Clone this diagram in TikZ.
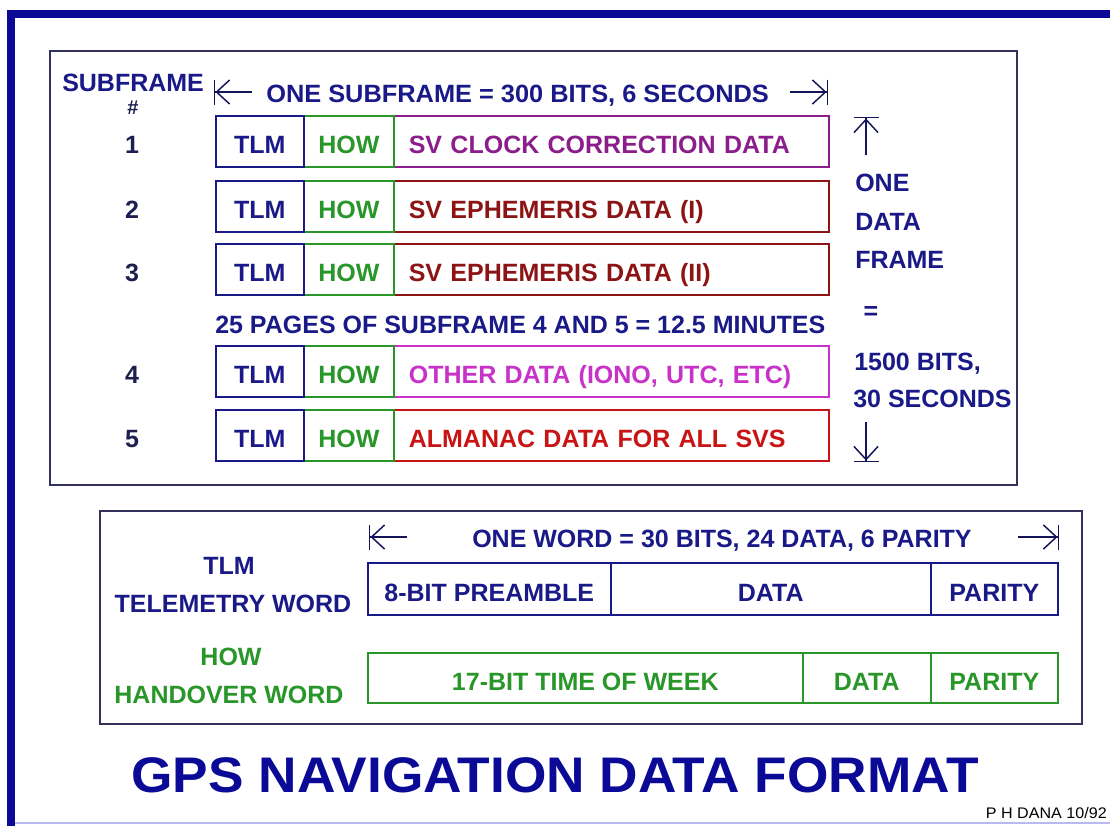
\documentclass[tikz,border=0pt]{standalone}
\usepackage{fontspec}
\setmainfont{Liberation Sans}
\usetikzlibrary{arrows.meta}
\definecolor{navy}{RGB}{25,25,135}
\definecolor{numcol}{RGB}{30,30,80}
\definecolor{grn}{RGB}{40,150,40}
\definecolor{purp}{RGB}{140,30,140}
\definecolor{dred}{RGB}{140,20,20}
\definecolor{magn}{RGB}{200,50,200}
\definecolor{brred}{RGB}{200,20,20}
\definecolor{frameblue}{RGB}{10,10,150}
\definecolor{panelline}{RGB}{50,50,90}
\definecolor{lav}{RGB}{185,185,235}
\definecolor{arrcol}{RGB}{20,20,90}
\newcommand{\lblfont}{\bfseries\fontsize{18.75pt}{22pt}\selectfont}
\tikzset{
  lbl/.style={font=\lblfont, inner sep=0pt},
  cell/.style={draw, line width=1.2pt, anchor=north west, inner sep=0pt,
    minimum height=38.25pt, text height=18.75pt, text depth=0pt, font=\lblfont},
  dcell/.style={cell, text width=303.75pt, align=left, inner xsep=11.25pt},
  panel/.style={draw=panelline, line width=1.4pt},
  dimstart/.style={draw=arrcol, line width=1.1pt,
    {Bar[width=18.75pt,line width=1.1pt]Straight Barb[length=9.75pt,width=18pt,line width=1.1pt]}-},
  dimend/.style={draw=arrcol, line width=1.1pt,
    -{Straight Barb[length=9.75pt,width=18pt,line width=1.1pt]Bar[width=18.75pt,line width=1.1pt]}},
}
\begin{document}
\begin{tikzpicture}[x=0.75pt,y=-0.75pt]
\useasboundingbox (0,0) rectangle (1110,825);
\fill[white] (0,0) rectangle (1110,825);
% outer frame
\draw[frameblue, line width=6pt] (11,830) -- (11,14) -- (1115,14);
\draw[lav, line width=1.5pt] (15,823) -- (1110,823);
% panels
\draw[panel] (50,51) rectangle (1017,485);
\draw[panel] (100,511) rectangle (1082,724);

% header
\node[lbl, navy, anchor=base west] (subframe) at (62,91) {SUBFRAME};
\node[font=\bfseries\fontsize{15pt}{17pt}\selectfont, inner sep=0pt, numcol, anchor=base] (hash) at (133,114) {\#};
\coordinate (tl1) at (214,92); \coordinate (tl2) at (252,92);
\coordinate (tr1) at (790,92); \coordinate (tr2) at (828,92);
\draw[dimstart] (tl1) -- (tl2);
\draw[dimend] (tr1) -- (tr2);
\node[lbl, navy, anchor=base west, xscale=1.015] (onesub) at (266,102) {ONE SUBFRAME = 300 BITS, 6 SECONDS};

% row 1
\node[dcell, draw=purp, text=purp] (d1) at (393,115) {SV CLOCK CORRECTION DATA};
\node[cell, draw=grn, text=grn, minimum width=67.5pt] (h1) at (303,115) {HOW};
\node[cell, draw=navy, text=navy, minimum width=66pt] (t1) at (215,115) {TLM};
% row 2
\node[dcell, draw=dred, text=dred] (d2) at (393,180) {SV EPHEMERIS DATA (I)};
\node[cell, draw=grn, text=grn, minimum width=67.5pt] (h2) at (303,180) {HOW};
\node[cell, draw=navy, text=navy, minimum width=66pt] (t2) at (215,180) {TLM};
% row 3
\node[dcell, draw=dred, text=dred] (d3) at (393,243) {SV EPHEMERIS DATA (II)};
\node[cell, draw=grn, text=grn, minimum width=67.5pt] (h3) at (303,243) {HOW};
\node[cell, draw=navy, text=navy, minimum width=66pt] (t3) at (215,243) {TLM};
% row 4
\node[dcell, draw=magn, text=magn] (d4) at (393,345) {OTHER DATA (IONO, UTC, ETC)};
\node[cell, draw=grn, text=grn, minimum width=67.5pt] (h4) at (303,345) {HOW};
\node[cell, draw=navy, text=navy, minimum width=66pt] (t4) at (215,345) {TLM};
% row 5
\node[dcell, draw=brred, text=brred] (d5) at (393,409) {ALMANAC DATA FOR ALL SVS};
\node[cell, draw=grn, text=grn, minimum width=67.5pt] (h5) at (303,409) {HOW};
\node[cell, draw=navy, text=navy, minimum width=66pt] (t5) at (215,409) {TLM};

% subframe numbers
\node[lbl, numcol, anchor=base] (n1) at (132,153) {1};
\node[lbl, numcol, anchor=base] (n2) at (132,218) {2};
\node[lbl, numcol, anchor=base] (n3) at (132,281) {3};
\node[lbl, numcol, anchor=base] (n4) at (132,383) {4};
\node[lbl, numcol, anchor=base] (n5) at (132,447) {5};

\node[lbl, navy, anchor=base west] (pages) at (215,333) {25 PAGES OF SUBFRAME 4 AND 5 = 12.5 MINUTES};

% right side
\coordinate (vt1) at (866,117); \coordinate (vt2) at (866,155);
\coordinate (vb1) at (866,422); \coordinate (vb2) at (866,462);
\draw[dimstart] (vt1) -- (vt2);
\draw[dimend] (vb1) -- (vb2);
\node[lbl, navy, anchor=base west] (rone) at (855,191) {ONE};
\node[lbl, navy, anchor=base west] (rdata) at (855,230) {DATA};
\node[lbl, navy, anchor=base west] (rframe) at (855,268) {FRAME};
\node[lbl, navy, anchor=base] (req) at (871,319) {=};
\node[lbl, navy, anchor=base west] (rbits) at (854,370) {1500 BITS,};
\node[lbl, navy, anchor=base west] (rsec) at (853,407) {30 SECONDS};

% bottom panel
\coordinate (wl1) at (369,537); \coordinate (wl2) at (407,537);
\coordinate (wr1) at (1018,537); \coordinate (wr2) at (1059,537);
\draw[dimstart] (wl1) -- (wl2);
\draw[dimend] (wr1) -- (wr2);
\node[lbl, navy, anchor=base west] (oneword) at (472,547) {ONE WORD = 30 BITS, 24 DATA, 6 PARITY};

\node[lbl, navy, anchor=base] (btlm) at (229,574) {TLM};
\node[lbl, navy, anchor=base] (btel) at (233,612) {TELEMETRY WORD};
\node[lbl, grn, anchor=base] (bhow) at (231,665) {HOW};
\node[lbl, grn, anchor=base] (bhand) at (229,703) {HANDOVER WORD};

\node[cell, draw=navy, text=navy, minimum width=182.25pt, minimum height=39pt] (tw1) at (367,562) {8-BIT PREAMBLE};
\node[cell, draw=navy, text=navy, minimum width=240pt, minimum height=39pt] (tw2) at (610,562) {DATA};
\node[cell, draw=navy, text=navy, minimum width=95.25pt, minimum height=39pt] (tw3) at (930,562) {PARITY};

\node[cell, draw=grn, text=grn, minimum width=326.25pt, minimum height=37.5pt] (hw1) at (367,652) {17-BIT TIME OF WEEK};
\node[cell, draw=grn, text=grn, minimum width=96pt, minimum height=37.5pt] (hw2) at (802,652) {DATA};
\node[cell, draw=grn, text=grn, minimum width=95.25pt, minimum height=37.5pt] (hw3) at (930,652) {PARITY};

% title
\node[font=\bfseries\fontsize{37.5pt}{40pt}\selectfont, text=frameblue, inner sep=0pt, anchor=base, xscale=1.065] (title) at (555,792) {GPS NAVIGATION DATA FORMAT};
\node[font=\fontsize{11.5pt}{13pt}\selectfont, inner sep=0pt, anchor=base east, xscale=1.05] (sig) at (1107,818) {P H DANA 10/92};
\end{tikzpicture}
\end{document}
